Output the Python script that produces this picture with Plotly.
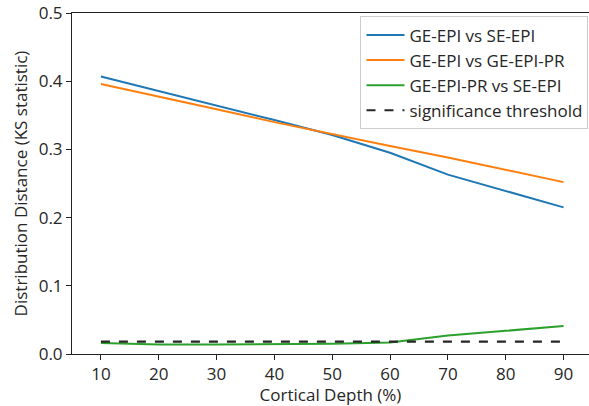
import plotly.graph_objects as go

# Cortical depth sampling (% of cortical thickness)
depth = [10, 20, 30, 40, 50, 60, 70, 80, 90]

# KS statistic between sequence pairs at each depth
ge_vs_se = [0.407, 0.386, 0.365, 0.343, 0.321, 0.295, 0.263, 0.239, 0.215]
ge_vs_gepr = [0.396, 0.378, 0.359, 0.340, 0.322, 0.305, 0.288, 0.270, 0.252]
gepr_vs_se = [0.016, 0.014, 0.014, 0.014, 0.015, 0.017, 0.027, 0.034, 0.041]
sig_threshold = [0.018] * len(depth)

series_names = ["GE-EPI vs SE-EPI", "GE-EPI vs GE-EPI-PR",
                "GE-EPI-PR vs SE-EPI", "significance threshold"]

x_ticks = [10, 20, 30, 40, 50, 60, 70, 80, 90]
y_ticks = [0.0, 0.1, 0.2, 0.3, 0.4, 0.5]

font_family = "Open Sans"
font_size = 17

fig = go.Figure()
fig.add_trace(go.Scatter(x=depth, y=ge_vs_se, mode="lines", name=series_names[0],
                         line=dict(color="#1f77b4", width=2)))
fig.add_trace(go.Scatter(x=depth, y=ge_vs_gepr, mode="lines", name=series_names[1],
                         line=dict(color="#ff7f0e", width=2)))
fig.add_trace(go.Scatter(x=depth, y=gepr_vs_se, mode="lines", name=series_names[2],
                         line=dict(color="#2ca02c", width=2)))
fig.add_trace(go.Scatter(x=depth, y=sig_threshold, mode="lines", name=series_names[3],
                         line=dict(color="#262626", width=2.2, dash="dash")))

axis_common = dict(
    showgrid=False, zeroline=False, showline=True, linecolor="#222222", linewidth=1,
    ticks="outside", ticklen=5, tickwidth=1, tickcolor="#222222",
    tickfont=dict(family=font_family, size=font_size, color="#262626"),
)

fig.update_layout(
    width=589, height=406,
    margin=dict(l=72, r=0, t=13, b=52),
    paper_bgcolor="white", plot_bgcolor="white",
    font=dict(family=font_family, size=font_size, color="#262626"),
    xaxis=dict(range=[5.0, 94.4], tickvals=x_ticks, mirror=True,
               title=dict(text="Cortical Depth (%)", standoff=4,
                          font=dict(family=font_family, size=font_size)),
               **axis_common),
    yaxis=dict(range=[0, 0.5], tickvals=y_ticks, tickformat=".1f",
               title=dict(text="Distribution Distance (KS statistic)", standoff=6,
                          font=dict(family=font_family, size=font_size)),
               **axis_common),
    legend=dict(x=0.558, y=0.99, xanchor="left", yanchor="top", itemwidth=38,
                bgcolor="rgba(255,255,255,0.8)", bordercolor="#cccccc", borderwidth=1,
                font=dict(family=font_family, size=font_size, color="#262626")),
)

fig.write_html("out.html")
